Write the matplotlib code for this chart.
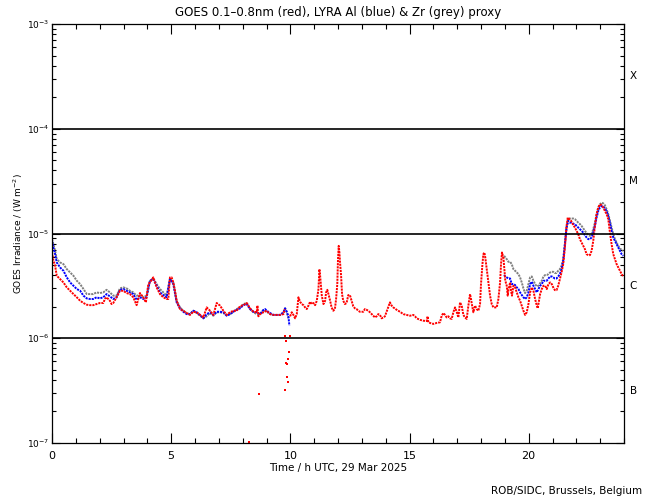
import matplotlib
matplotlib.use("Agg")
import matplotlib.pyplot as plt
import numpy as np
from matplotlib.ticker import LogLocator, MultipleLocator, LogFormatterSciNotation

# ---- data (irradiance in units of 1e-6 W m^-2, time in hours UTC) ----
red_t = [0.00, 0.06, 0.13, 0.20, 0.34, 0.48, 0.62, 0.76, 0.90, 1.04, 1.18, 1.32, 1.46, 1.59, 1.73, 1.87,
         2.01, 2.15, 2.22, 2.29, 2.43, 2.50, 2.57, 2.71, 2.85, 2.99, 3.13, 3.27, 3.41, 3.55, 3.62, 3.69,
         3.83, 3.94, 4.04, 4.11, 4.25, 4.39, 4.53, 4.67, 4.81, 4.88, 4.95, 5.02, 5.09, 5.16, 5.23, 5.37,
         5.51, 5.65, 5.79, 5.93, 6.07, 6.21, 6.35, 6.49, 6.63, 6.77, 6.91, 7.05, 7.19, 7.33, 7.47, 7.61,
         7.75, 7.89, 8.03, 8.17, 8.31, 8.45, 8.59, 8.62, 8.66, 8.73, 8.87, 9.01, 9.15, 9.29, 9.43, 9.57,
         9.71, 9.76]
red_v = [6.60, 5.49, 4.92, 3.95, 3.67, 3.41, 3.06, 2.84, 2.64, 2.46, 2.28, 2.17, 2.09, 2.07, 2.07, 2.12,
         2.17, 2.17, 2.37, 2.46, 2.28, 2.12, 2.17, 2.46, 2.84, 2.84, 2.70, 2.64, 2.46, 2.07, 2.37, 2.70,
         2.46, 2.20, 3.29, 3.41, 3.81, 3.06, 2.64, 2.46, 2.37, 2.37, 3.81, 3.81, 3.41, 2.84, 2.28, 1.90,
         1.83, 1.74, 1.67, 1.79, 1.77, 1.67, 1.58, 1.97, 1.83, 1.67, 2.17, 2.05, 1.83, 1.67, 1.77, 1.83,
         1.83, 2.02, 2.07, 2.17, 1.93, 1.79, 1.77, 2.05, 1.62, 1.70, 1.77, 1.83, 1.70, 1.67, 1.67, 1.67,
         1.70, 1.90]

red2_t = [9.99, 10.06, 10.13, 10.20, 10.27, 10.29, 10.34, 10.41, 10.48, 10.55, 10.62, 10.69, 10.76, 10.83,
          10.90, 10.97, 11.04, 11.11, 11.13, 11.18, 11.22, 11.25, 11.29, 11.32, 11.39, 11.46, 11.50, 11.55,
          11.60, 11.67, 11.73, 11.80, 11.87, 11.92, 11.97, 12.00, 12.03, 12.06, 12.08, 12.13, 12.17, 12.22,
          12.29, 12.36, 12.43, 12.50, 12.57, 12.64, 12.71, 12.78, 12.85, 12.92, 13.06, 13.13, 13.20, 13.27,
          13.34, 13.48, 13.55, 13.62, 13.69, 13.76, 13.83, 13.90, 13.97, 14.04, 14.11, 14.18, 14.25, 14.32,
          14.46, 14.60, 14.74, 14.88, 15.02, 15.16, 15.23, 15.30, 15.44, 15.58, 15.72, 15.76, 15.79, 15.86,
          16.00, 16.14, 16.28, 16.35, 16.42, 16.49, 16.56, 16.63, 16.70, 16.77, 16.84, 16.91, 16.98, 17.05,
          17.12, 17.19, 17.26, 17.33, 17.40, 17.47, 17.54, 17.58, 17.64, 17.68, 17.75, 17.82, 17.89, 17.96,
          18.00, 18.06, 18.10, 18.14, 18.18, 18.24, 18.31, 18.38, 18.45, 18.52, 18.59, 18.66, 18.73, 18.80,
          18.84, 18.88, 18.94, 18.98, 19.02, 19.08, 19.12, 19.16, 19.22, 19.26, 19.30, 19.36, 19.43, 19.50,
          19.57, 19.64, 19.71, 19.78, 19.85, 19.92, 19.99, 20.06, 20.13, 20.20, 20.27, 20.34, 20.38, 20.42,
          20.48, 20.55, 20.62, 20.69, 20.76, 20.83, 20.90, 20.97, 21.03, 21.10, 21.17, 21.24, 21.31, 21.38,
          21.45, 21.52, 21.59, 21.64, 21.71, 21.78, 21.85, 21.94, 22.01, 22.08, 22.15, 22.22, 22.29, 22.36,
          22.43, 22.50, 22.57, 22.64, 22.71, 22.78, 22.85, 22.92, 22.99, 23.06, 23.13, 23.20, 23.27, 23.34,
          23.41, 23.48, 23.55, 23.62, 23.69, 23.76, 23.83, 23.90, 23.97]
red2_v = [1.62, 1.77, 1.67, 1.55, 1.70, 1.90, 2.46, 2.23, 2.12, 2.07, 1.97, 1.90, 2.05, 2.23,
          2.12, 2.17, 2.07, 2.28, 2.46, 2.95, 4.57, 3.95, 3.06, 2.55, 2.12, 2.28, 2.74, 2.90,
          2.64, 2.28, 1.97, 1.83, 1.90, 2.37, 3.29, 5.69, 7.62, 6.59, 5.49, 3.95, 2.64, 2.28,
          2.12, 2.17, 2.58, 2.58, 2.28, 2.02, 1.93, 1.90, 1.83, 1.79, 1.79, 1.90, 1.87, 1.83,
          1.77, 1.64, 1.58, 1.62, 1.70, 1.67, 1.55, 1.58, 1.62, 1.79, 1.97, 2.20, 2.05, 1.97,
          1.87, 1.79, 1.70, 1.67, 1.64, 1.67, 1.62, 1.55, 1.50, 1.47, 1.46, 1.62, 1.42, 1.40,
          1.37, 1.40, 1.42, 1.64, 1.74, 1.67, 1.58, 1.62, 1.55, 1.53, 1.77, 1.97, 1.79, 1.58,
          2.20, 2.05, 1.67, 1.58, 1.53, 2.05, 2.64, 2.37, 1.97, 1.77, 2.05, 1.90, 1.83, 2.12,
          3.29, 5.10, 6.35, 6.59, 5.90, 4.57, 3.41, 2.55, 2.12, 1.97, 1.97, 1.97, 2.37, 3.41,
          5.10, 6.59, 5.90, 4.57, 3.54, 3.17, 2.55, 2.95, 3.41, 2.84, 2.55, 3.17, 3.06, 2.74,
          2.46, 2.28, 2.05, 1.83, 1.67, 1.77, 2.12, 2.74, 3.06, 2.84, 2.37, 2.05, 1.93, 2.20,
          2.64, 2.95, 3.17, 3.17, 2.95, 3.29, 3.41, 3.29, 3.06, 2.88, 2.88, 3.17, 3.67, 4.25,
          5.10, 7.35, 11.8, 14.2, 13.7, 13.2, 12.3, 11.4, 10.6, 9.85, 8.83, 8.20, 7.63, 7.09,
          6.35, 6.21, 6.21, 6.83, 8.51, 11.8, 15.3, 17.7, 19.0, 18.6, 17.7, 16.4, 15.3, 13.7,
          10.2, 7.91, 6.35, 5.69, 5.10, 4.74, 4.41, 4.10, 3.89]

# scattered red samples in the dip near 10 h
red_dip_t = [8.27, 8.70, 9.77, 9.78, 9.80, 9.83, 9.86, 9.88, 9.90, 9.92, 9.95, 9.99]
red_dip_v = [0.102, 0.295, 0.324, 1.06, 0.58, 0.94, 0.43, 0.57, 0.384, 0.64, 0.74, 1.06]

blue_t = [0.00, 0.06, 0.13, 0.20, 0.34, 0.48, 0.62, 0.76, 0.90, 1.04, 1.18, 1.32, 1.46, 1.59, 1.73, 1.87,
          2.01, 2.15, 2.29, 2.43, 2.57, 2.71, 2.85, 2.99, 3.13, 3.27, 3.41, 3.55, 3.69, 3.83, 3.97, 4.11,
          4.25, 4.39, 4.53, 4.67, 4.81, 4.95, 5.09, 5.23, 5.37, 5.51, 5.65, 5.79, 5.93, 6.07, 6.21, 6.35,
          6.49, 6.63, 6.77, 6.91, 7.05, 7.19, 7.33, 7.47, 7.61, 7.75, 7.89, 8.03, 8.17, 8.31, 8.45, 8.59,
          8.73, 8.87, 8.94, 9.01, 9.15, 9.29, 9.43, 9.57, 9.71, 9.78, 9.85, 9.92, 9.96]
blue_v = [8.51, 7.35, 6.35, 5.29, 4.74, 4.41, 3.81, 3.41, 3.17, 2.95, 2.84, 2.55, 2.40, 2.37, 2.37, 2.46,
          2.40, 2.46, 2.64, 2.51, 2.37, 2.46, 2.89, 2.95, 2.84, 2.74, 2.64, 2.33, 2.46, 2.37, 2.46, 3.54,
          3.67, 3.17, 2.74, 2.58, 2.46, 3.67, 3.29, 2.20, 1.93, 1.79, 1.70, 1.70, 1.83, 1.77, 1.67, 1.55,
          1.70, 1.77, 1.67, 1.79, 1.79, 1.77, 1.64, 1.70, 1.79, 1.87, 1.93, 2.07, 2.12, 1.90, 1.79, 1.77,
          1.70, 1.86, 1.90, 1.83, 1.74, 1.67, 1.67, 1.67, 1.77, 1.93, 1.79, 1.62, 1.32]

blue2_t = [18.97, 19.01, 19.08, 19.15, 19.22, 19.29, 19.36, 19.43, 19.50, 19.57, 19.64, 19.71, 19.78, 19.85,
           19.92, 19.99, 20.06, 20.13, 20.20, 20.27, 20.34, 20.41, 20.48, 20.55, 20.62, 20.69, 20.76, 20.83,
           20.90, 20.97, 21.03, 21.10, 21.17, 21.24, 21.31, 21.38, 21.45, 21.52, 21.59, 21.66, 21.73, 21.80,
           21.87, 21.94, 22.01, 22.08, 22.15, 22.22, 22.29, 22.36, 22.43, 22.50, 22.57, 22.64, 22.71, 22.78,
           22.85, 22.92, 22.99, 23.06, 23.13, 23.20, 23.27, 23.34, 23.41, 23.48, 23.55, 23.62, 23.69, 23.76,
           23.83, 23.90, 23.97]
blue2_v = [4.01, 3.89, 3.81, 3.72, 3.72, 3.29, 3.29, 3.22, 3.06, 2.95, 2.74, 2.59, 2.46, 2.37,
           2.46, 2.74, 3.29, 3.46, 3.17, 2.95, 2.74, 2.95, 3.17, 3.29, 3.54, 3.54, 3.54, 3.72,
           3.89, 3.89, 3.81, 3.72, 3.72, 3.89, 4.10, 4.57, 5.49, 7.91, 11.4, 13.2, 12.7, 12.7,
           12.4, 12.3, 11.8, 11.4, 11.0, 10.6, 10.2, 9.64, 9.16, 8.83, 8.83, 9.16, 10.2, 11.8,
           14.2, 16.4, 17.7, 18.3, 18.1, 17.3, 16.4, 14.7, 12.7, 10.6, 9.16, 8.51, 7.91, 7.35,
           6.83, 6.35, 6.12]

grey_t = [0.00, 0.13, 0.20, 0.34, 0.48, 0.62, 0.76, 0.90, 1.04, 1.18, 1.32, 1.46, 1.59, 1.73, 1.87, 2.01,
          2.15, 2.29, 2.43, 2.57, 2.71, 2.85, 2.99, 3.13, 3.27, 3.41, 3.55, 3.69, 3.83, 3.97, 4.11, 4.25,
          4.39, 4.53, 4.67, 4.81, 4.95, 5.09, 5.23, 5.37, 5.51, 5.65, 5.79, 5.93, 6.07, 6.21, 6.35, 6.49,
          6.63, 6.77, 6.91, 7.05, 7.19, 7.33, 7.47, 7.61, 7.75, 7.89, 8.03, 8.17, 8.31, 8.45, 8.59, 8.73,
          8.87, 9.01, 9.15, 9.29, 9.43, 9.57, 9.71, 9.78, 9.85, 9.92]
grey_v = [8.83, 6.84, 5.69, 5.29, 5.10, 4.57, 4.25, 3.95, 3.54, 3.29, 2.95, 2.64, 2.64, 2.64, 2.74, 2.70,
          2.74, 2.90, 2.74, 2.55, 2.55, 2.99, 3.06, 2.99, 2.84, 2.74, 2.55, 2.58, 2.46, 2.55, 3.54, 3.73,
          3.29, 2.95, 2.74, 2.55, 3.73, 3.41, 2.28, 1.97, 1.83, 1.74, 1.70, 1.83, 1.74, 1.64, 1.55, 1.62,
          1.74, 1.64, 1.77, 1.77, 1.74, 1.67, 1.70, 1.79, 1.90, 1.97, 2.12, 2.17, 1.90, 1.77, 1.70, 1.70,
          1.86, 1.79, 1.70, 1.67, 1.67, 1.67, 1.74, 1.93, 1.77, 1.55]

grey2_t = [18.97, 19.08, 19.15, 19.22, 19.29, 19.36, 19.43, 19.50, 19.57, 19.64, 19.71, 19.78, 19.85, 19.92,
           19.99, 20.06, 20.13, 20.20, 20.27, 20.34, 20.41, 20.48, 20.55, 20.62, 20.69, 20.76, 20.83, 20.90,
           20.97, 21.03, 21.10, 21.17, 21.24, 21.31, 21.38, 21.45, 21.52, 21.59, 21.66, 21.73, 21.80, 21.87,
           21.94, 22.01, 22.08, 22.15, 22.22, 22.29, 22.36, 22.43, 22.50, 22.57, 22.64, 22.71, 22.78, 22.85,
           22.92, 22.99, 23.06, 23.13, 23.20, 23.27, 23.34, 23.41, 23.48, 23.55, 23.62, 23.69, 23.76, 23.83,
           23.90, 23.97]
grey2_v = [6.12, 5.69, 5.37, 5.37, 5.10, 4.57, 4.41, 4.25, 4.10, 3.81, 3.41, 2.99, 2.70, 2.84,
           3.29, 3.81, 3.89, 3.54, 3.29, 3.13, 3.17, 3.36, 3.54, 3.89, 4.01, 4.01, 4.10, 4.25,
           4.31, 4.31, 4.19, 4.19, 4.41, 4.57, 4.92, 5.69, 7.91, 11.4, 13.9, 13.9, 13.9, 13.9,
           13.7, 13.2, 12.7, 12.3, 11.8, 11.2, 10.6, 10.1, 9.64, 9.50, 9.85, 11.0, 12.7, 15.3,
           17.7, 19.0, 19.7, 19.4, 18.6, 17.0, 15.3, 13.2, 11.4, 9.85, 8.83, 8.20, 7.63, 7.19,
           6.99, 6.83]

class_levels = [1e-6, 1e-5, 1e-4]
class_labels = ["B", "C", "M", "X"]
class_centers = [10**-6.5, 10**-5.5, 10**-4.5, 10**-3.5]

UNIT = 1e-6

fig = plt.figure(figsize=(6.5, 5.0), dpi=100)
ax = fig.add_axes([52/650, 57/500, 572/650, 419/500])

def scale(v):
    return np.asarray(v) * UNIT

lw = 1.4
dots = (0, (1.1, 0.5))
ax.plot(grey_t, scale(grey_v), color="#808080", lw=lw, ls=dots)
ax.plot(grey2_t, scale(grey2_v), color="#808080", lw=lw, ls=dots)
ax.plot(blue_t, scale(blue_v), color="#0000ff", lw=lw, ls=dots)
ax.plot(blue2_t, scale(blue2_v), color="#0000ff", lw=lw, ls=dots)
ax.plot(red_t, scale(red_v), color="#ff0000", lw=lw, ls=dots)
ax.plot(red2_t, scale(red2_v), color="#ff0000", lw=lw, ls=dots)
ax.plot(red_dip_t, scale(red_dip_v), ls="none", marker="s", ms=1.5, mew=0, color="#ff0000")

for lv in class_levels:
    ax.axhline(lv, color="black", lw=1.2)

ax.set_yscale("log")
ax.set_ylim(1e-7, 1e-3)
ax.set_xlim(0, 24)

ax.xaxis.set_major_locator(MultipleLocator(5))
ax.xaxis.set_minor_locator(MultipleLocator(1))
ax.yaxis.set_major_locator(LogLocator(base=10, numticks=10))
ax.yaxis.set_minor_locator(LogLocator(base=10, subs=np.arange(2, 10), numticks=20))
ax.yaxis.set_major_formatter(LogFormatterSciNotation())

ax.tick_params(which="both", direction="in", top=True, right=True, labelright=False,
               colors="black", width=0.8)
ax.tick_params(axis="x", which="major", length=7, labelsize=8, pad=6)
ax.tick_params(axis="x", which="minor", length=3.5)
ax.tick_params(axis="y", which="major", length=5.5, labelsize=6.5, pad=2)
ax.tick_params(axis="y", which="minor", length=3)
for sp in ax.spines.values():
    sp.set_linewidth(0.9)

for lab, yc in zip(class_labels, class_centers):
    ax.text(1.016, yc, lab, transform=ax.get_yaxis_transform(), ha="center", va="center", fontsize=7.5)

ax.set_title("GOES 0.1\u20130.8nm (red), LYRA Al (blue) & Zr (grey) proxy", fontsize=8.5, pad=6)
ax.set_xlabel("Time / h UTC, 29 Mar 2025", fontsize=7.5, labelpad=1)
ax.set_ylabel("GOES Irradiance / (W m$^{-2}$)", fontsize=6.5, labelpad=1)
fig.text(642/650, 1 - 491/500, "ROB/SIDC, Brussels, Belgium", ha="right", va="center", fontsize=7.5)

fig.savefig("out.png", dpi=100)
